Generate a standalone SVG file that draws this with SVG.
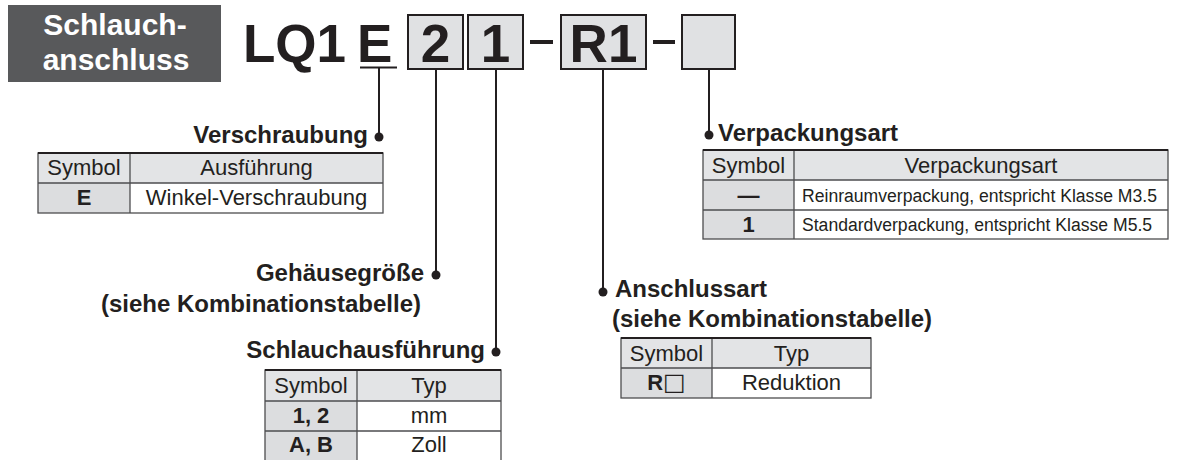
<svg xmlns="http://www.w3.org/2000/svg" width="1180" height="460" viewBox="0 0 1180 460">
<style>
.lbl{font-family:"Liberation Sans",Arial,sans-serif;font-weight:bold;font-size:24px;fill:#231f20}
.code{font-family:"Liberation Sans",Arial,sans-serif;font-weight:bold;font-size:53px;fill:#231f20}
.th{font-family:"Liberation Sans",Arial,sans-serif;font-size:22px;fill:#231f20;text-anchor:middle}
.tb{font-family:"Liberation Sans",Arial,sans-serif;font-size:22px;font-weight:bold;fill:#231f20;text-anchor:middle}
.ts{font-family:"Liberation Sans",Arial,sans-serif;font-size:17.6px;fill:#231f20}
.box{fill:#e0e1e3;stroke:#231f20;stroke-width:2}
.hdr{fill:#e3e4e6}
.sym{fill:#dcdddf}
.grid{stroke:#4d4d4f;stroke-width:1.3;fill:none}
.top{stroke:#231f20;stroke-width:2.2}
.conn line{stroke:#231f20;stroke-width:2}
.conn circle{fill:#231f20}
</style>

<g id="title">
  <rect x="8" y="5" width="213" height="77" fill="#58595b"/>
  <text x="115" y="35" text-anchor="middle" font-family="Liberation Sans, Arial, sans-serif" font-weight="bold" font-size="30" fill="#ffffff">Schlauch-</text>
  <text x="116" y="70" text-anchor="middle" font-family="Liberation Sans, Arial, sans-serif" font-weight="bold" font-size="30" fill="#ffffff">anschluss</text>
</g>

<g id="code">
  <text class="code" x="243" y="62">LQ1</text>
  <text class="code" x="357" y="62">E</text>
  <line x1="360" y1="67.5" x2="397" y2="67.5" stroke="#231f20" stroke-width="2"/>
  <rect class="box" x="408" y="15" width="55" height="54"/>
  <text class="code" x="435.5" y="62" text-anchor="middle">2</text>
  <rect class="box" x="468" y="15" width="55" height="54"/>
  <text class="code" x="495.5" y="62" text-anchor="middle">1</text>
  <line x1="530" y1="42" x2="553" y2="42" stroke="#231f20" stroke-width="4"/>
  <rect class="box" x="561" y="15" width="85" height="54"/>
  <text class="code" x="603.5" y="62" text-anchor="middle">R1</text>
  <line x1="653" y1="42" x2="675" y2="42" stroke="#231f20" stroke-width="4"/>
  <rect class="box" x="682" y="15" width="53" height="54"/>
</g>

<g class="conn" id="connectors">
  <line x1="379" y1="68" x2="379" y2="137"/>
  <circle cx="379" cy="137" r="4.5"/>
  <line x1="436" y1="69" x2="436" y2="275"/>
  <circle cx="436" cy="275" r="4.5"/>
  <line x1="496" y1="69" x2="496" y2="352"/>
  <circle cx="496" cy="352" r="4.5"/>
  <line x1="603" y1="69" x2="603" y2="292"/>
  <circle cx="603" cy="292" r="4.5"/>
  <line x1="709" y1="69" x2="709" y2="135"/>
  <circle cx="709" cy="135" r="4.5"/>
</g>

<g id="verschraubung">
  <text class="lbl" x="368" y="143" text-anchor="end">Verschraubung</text>
  <rect class="hdr" x="38" y="153" width="345" height="30"/>
  <rect class="sym" x="38" y="183" width="92" height="30"/>
  <rect x="130" y="183" width="253" height="30" fill="#ffffff"/>
  <rect class="grid" x="38" y="153" width="345" height="60"/>
  <line class="grid" x1="38" y1="183" x2="383" y2="183"/>
  <line class="grid" x1="130" y1="153" x2="130" y2="213"/>
  <line class="top" x1="38" y1="153" x2="383" y2="153"/>
  <text class="th" x="84" y="175">Symbol</text>
  <text class="th" x="256.5" y="175">Ausführung</text>
  <text class="tb" x="84" y="205">E</text>
  <text class="th" x="256.5" y="205">Winkel-Verschraubung</text>
</g>

<g id="gehaeusegroesse">
  <text class="lbl" x="424" y="281" text-anchor="end">Gehäusegröße</text>
  <text class="lbl" x="421" y="312" text-anchor="end">(siehe Kombinationstabelle)</text>
</g>

<g id="schlauchausfuehrung">
  <text class="lbl" x="485" y="358" text-anchor="end">Schlauchausführung</text>
  <rect class="hdr" x="265" y="370" width="236" height="31"/>
  <rect class="sym" x="265" y="401" width="92" height="60"/>
  <rect x="357" y="401" width="144" height="60" fill="#ffffff"/>
  <rect class="grid" x="265" y="370" width="236" height="91"/>
  <line class="grid" x1="265" y1="401" x2="501" y2="401"/>
  <line class="grid" x1="265" y1="431" x2="501" y2="431"/>
  <line class="grid" x1="357" y1="370" x2="357" y2="461"/>
  <line class="top" x1="265" y1="370" x2="501" y2="370"/>
  <text class="th" x="311" y="393">Symbol</text>
  <text class="th" x="429" y="393">Typ</text>
  <text class="tb" x="311" y="423">1, 2</text>
  <text class="th" x="429" y="423">mm</text>
  <text class="tb" x="311" y="452">A, B</text>
  <text class="th" x="429" y="452">Zoll</text>
</g>

<g id="anschlussart">
  <text class="lbl" x="615" y="297">Anschlussart</text>
  <text class="lbl" x="612" y="327">(siehe Kombinationstabelle)</text>
  <rect class="hdr" x="621" y="338" width="250" height="30"/>
  <rect class="sym" x="621" y="368" width="91" height="30"/>
  <rect x="712" y="368" width="159" height="30" fill="#ffffff"/>
  <rect class="grid" x="621" y="338" width="250" height="60"/>
  <line class="grid" x1="621" y1="368" x2="871" y2="368"/>
  <line class="grid" x1="712" y1="338" x2="712" y2="398"/>
  <line class="top" x1="621" y1="338" x2="871" y2="338"/>
  <text class="th" x="666.5" y="361">Symbol</text>
  <text class="th" x="791.5" y="361">Typ</text>
  <text class="tb" x="666.5" y="390">R<tspan font-weight="normal" font-family="DejaVu Sans, sans-serif" font-size="24">□</tspan></text>
  <text class="th" x="791.5" y="390">Reduktion</text>
</g>

<g id="verpackungsart">
  <text class="lbl" x="718" y="141">Verpackungsart</text>
  <rect class="hdr" x="703" y="150" width="465" height="30"/>
  <rect class="sym" x="703" y="180" width="91" height="59"/>
  <rect x="794" y="180" width="374" height="59" fill="#ffffff"/>
  <rect class="grid" x="703" y="150" width="465" height="89"/>
  <line class="grid" x1="703" y1="180" x2="1168" y2="180"/>
  <line class="grid" x1="703" y1="210" x2="1168" y2="210"/>
  <line class="grid" x1="794" y1="150" x2="794" y2="239"/>
  <line class="top" x1="703" y1="150" x2="1168" y2="150"/>
  <text class="th" x="748.5" y="173">Symbol</text>
  <text class="th" x="981" y="173" font-size="21">Verpackungsart</text>
  <text class="tb" x="748.5" y="203">—</text>
  <text class="ts" x="802" y="202">Reinraumverpackung, entspricht Klasse M3.5</text>
  <text class="tb" x="748.5" y="232">1</text>
  <text class="ts" x="802" y="231">Standardverpackung, entspricht Klasse M5.5</text>
</g>
</svg>
